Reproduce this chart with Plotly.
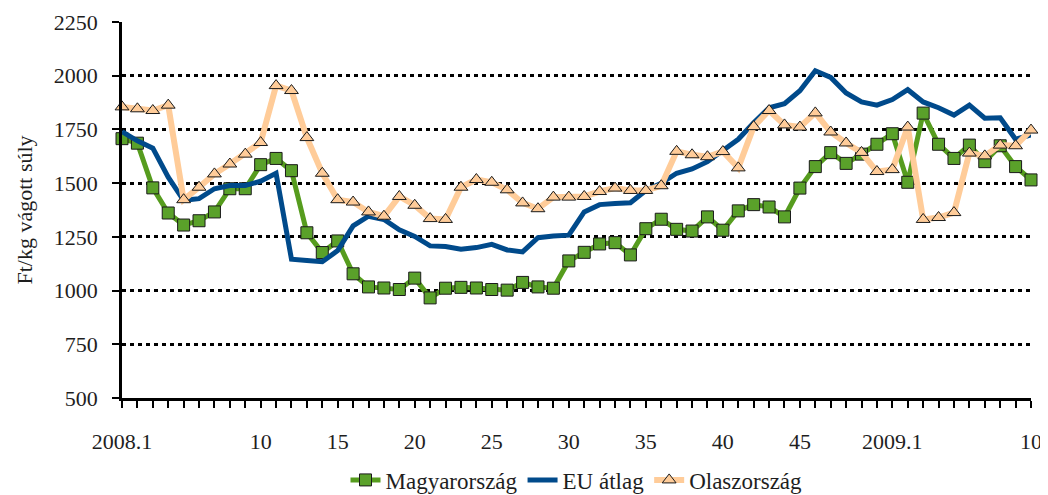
import plotly.graph_objects as go

# ---- data ----
weeks_2008 = [f"2008.{w}" for w in range(1, 51)]
weeks_2009 = [f"2009.{w}" for w in range(1, 11)]
weeks = weeks_2008 + weeks_2009

magyar = [1707, 1686, 1478, 1361, 1305, 1325, 1366, 1474, 1474, 1586,
          1615, 1558, 1269, 1177, 1231, 1078, 1017, 1012, 1005, 1058,
          966, 1011, 1015, 1012, 1005, 1002, 1038, 1017, 1011, 1138,
          1178, 1217, 1223, 1166, 1288, 1332, 1285, 1277, 1343, 1281,
          1371, 1400, 1389, 1343, 1477, 1577, 1642, 1592, 1635, 1681,
          1730, 1504, 1826, 1681, 1615, 1677, 1600, 1674, 1577, 1515]

eu = [1740, 1697, 1663, 1528, 1420, 1428, 1474, 1489, 1489, 1509,
      1546, 1146, 1140, 1134, 1186, 1301, 1346, 1331, 1283, 1252,
      1208, 1205, 1192, 1200, 1215, 1189, 1180, 1246, 1254, 1258,
      1366, 1400, 1405, 1409, 1466, 1500, 1546, 1566, 1600, 1654,
      1704, 1781, 1851, 1870, 1930, 2023, 1992, 1920, 1878, 1863,
      1889, 1935, 1878, 1851, 1817, 1863, 1802, 1804, 1704, 1724]

olasz = [1855, 1846, 1838, 1863, 1423, 1481, 1543, 1589, 1635, 1689,
         1954, 1931, 1712, 1546, 1423, 1412, 1366, 1346, 1438, 1397,
         1335, 1331, 1481, 1517, 1504, 1469, 1408, 1381, 1435, 1435,
         1438, 1461, 1477, 1466, 1466, 1488, 1648, 1632, 1623, 1647,
         1571, 1763, 1838, 1771, 1761, 1827, 1738, 1687, 1643, 1554,
         1563, 1761, 1331, 1340, 1363, 1640, 1627, 1677, 1674, 1747]

tick_weeks = ["2008.1", "2008.10", "2008.15", "2008.20", "2008.25", "2008.30",
              "2008.35", "2008.40", "2008.45", "2009.1", "2009.10"]
tick_text = ["2008.1", "10", "15", "20", "25", "30", "35", "40", "45", "2009.1", "10"]

y_ticks = [500, 750, 1000, 1250, 1500, 1750, 2000, 2250]

x = list(range(len(weeks)))
tick_pos = [weeks.index(w) for w in tick_weeks]

FONT = "Liberation Serif"
TXT = "#1e1e1e"

fig = go.Figure()
fig.add_trace(go.Scatter(
    x=x, y=magyar, name="Magyarország", mode="lines+markers",
    line=dict(color="#569C1E", width=5),
    marker=dict(symbol="square", size=12, color="#5AA12A",
                line=dict(color="#1a1a1a", width=1)),
    cliponaxis=False))
fig.add_trace(go.Scatter(
    x=x, y=eu, name="EU átlag", mode="lines",
    line=dict(color="#004A8B", width=5),
    cliponaxis=False))
fig.add_trace(go.Scatter(
    x=x, y=olasz, name="Olaszország", mode="lines+markers",
    line=dict(color="#FFCC99", width=6),
    marker=dict(symbol="triangle-up", size=12, color="#FFCC99",
                line=dict(color="#1a1a1a", width=1)),
    cliponaxis=False))

fig.update_layout(
    width=1040, height=487,
    margin=dict(l=114, r=17, t=14, b=97, autoexpand=False),
    paper_bgcolor="white", plot_bgcolor="white",
    font=dict(family=FONT, size=22, color=TXT),
    showlegend=True,
    legend=dict(orientation="h", x=0.5, xanchor="center", y=-0.218, yanchor="middle",
                font=dict(family=FONT, size=23, color=TXT),
                itemwidth=30, tracegroupgap=0),
    xaxis=dict(
        range=[0, len(weeks) - 1], tickmode="array", tickvals=tick_pos, ticktext=tick_text,
        showgrid=False, zeroline=False, showline=True, linecolor="black", linewidth=2.5,
        ticks="outside", ticklen=7, tickwidth=2, tickcolor="black",
        minor=dict(dtick=1, tick0=0, ticks="outside", ticklen=7, tickwidth=2, tickcolor="black",
                   showgrid=False),
        ticklabelstandoff=15,
        tickfont=dict(family=FONT, size=22, color=TXT)),
    yaxis=dict(
        range=[500, 2250], tickmode="array", tickvals=y_ticks,
        showgrid=True, gridcolor="black", gridwidth=2.5, griddash="4px,4px",
        zeroline=False, showline=True, linecolor="black", linewidth=2.5,
        ticks="outside", ticklen=7, tickwidth=2, tickcolor="black",
        ticklabelstandoff=10,
        tickfont=dict(family=FONT, size=22, color=TXT),
        title=dict(text="Ft/kg vágott súly", font=dict(family=FONT, size=22, color=TXT),
                   standoff=16)),
)

fig.write_html("out.html")
